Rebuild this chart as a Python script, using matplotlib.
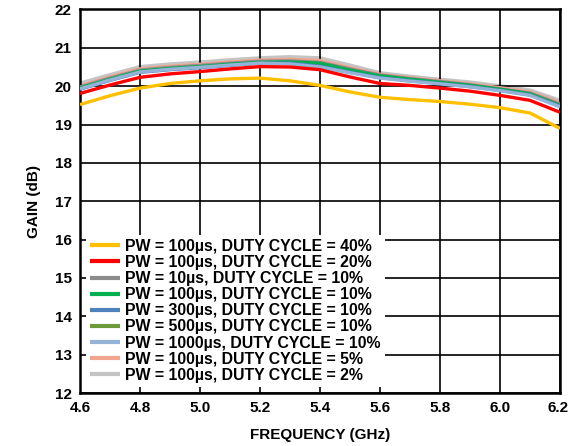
import matplotlib
matplotlib.use('Agg')
import matplotlib.pyplot as plt
import matplotlib.transforms as mtransforms

plt.rcParams['font.family'] = ['Liberation Sans', 'DejaVu Sans']
plt.rcParams['font.weight'] = 'bold'

# 频率点 (GHz)
freq = [4.6, 4.7, 4.8, 4.9, 5.0, 5.1, 5.2, 5.3, 5.4, 5.5, 5.6, 5.7, 5.8, 5.9, 6.0, 6.1, 6.2]

gain_100us_40 = [19.52, 19.75, 19.95, 20.07, 20.14, 20.19, 20.21, 20.14, 20.02, 19.85, 19.71, 19.65, 19.60, 19.53, 19.44, 19.30, 18.90]
gain_100us_20 = [19.81, 20.03, 20.23, 20.32, 20.38, 20.45, 20.51, 20.50, 20.43, 20.24, 20.07, 20.02, 19.95, 19.87, 19.76, 19.63, 19.32]
gain_10us_10 = [19.98, 20.21, 20.42, 20.49, 20.54, 20.60, 20.65, 20.66, 20.62, 20.45, 20.29, 20.20, 20.12, 20.04, 19.93, 19.82, 19.53]
gain_100us_10 = [19.95, 20.18, 20.39, 20.46, 20.51, 20.57, 20.62, 20.63, 20.60, 20.42, 20.27, 20.18, 20.10, 20.02, 19.92, 19.80, 19.50]
gain_300us_10 = [19.92, 20.15, 20.36, 20.43, 20.48, 20.54, 20.60, 20.60, 20.52, 20.36, 20.22, 20.14, 20.07, 19.99, 19.89, 19.77, 19.48]
gain_500us_10 = [19.94, 20.17, 20.38, 20.45, 20.50, 20.56, 20.61, 20.62, 20.58, 20.40, 20.25, 20.16, 20.08, 20.00, 19.90, 19.78, 19.49]
gain_1000us_10 = [19.93, 20.16, 20.37, 20.44, 20.49, 20.55, 20.60, 20.58, 20.50, 20.35, 20.21, 20.13, 20.06, 19.98, 19.88, 19.76, 19.46]
gain_100us_5 = [20.01, 20.24, 20.45, 20.52, 20.57, 20.63, 20.68, 20.70, 20.67, 20.48, 20.31, 20.22, 20.14, 20.06, 19.96, 19.85, 19.57]
gain_100us_2 = [20.05, 20.27, 20.48, 20.55, 20.60, 20.66, 20.71, 20.74, 20.71, 20.52, 20.32, 20.23, 20.15, 20.08, 19.98, 19.87, 19.60]

labels = ['PW = 100µs, DUTY CYCLE = 40%',
          'PW = 100µs, DUTY CYCLE = 20%',
          'PW = 10µs, DUTY CYCLE = 10%',
          'PW = 100µs, DUTY CYCLE = 10%',
          'PW = 300µs, DUTY CYCLE = 10%',
          'PW = 500µs, DUTY CYCLE = 10%',
          'PW = 1000µs, DUTY CYCLE = 10%',
          'PW = 100µs, DUTY CYCLE = 5%',
          'PW = 100µs, DUTY CYCLE = 2%']
series = [gain_100us_40, gain_100us_20, gain_10us_10, gain_100us_10, gain_300us_10,
          gain_500us_10, gain_1000us_10, gain_100us_5, gain_100us_2]
colors = ['#FFC000', '#FF0000', '#8C8C8C', '#00B050', '#4F81BD',
          '#6A9A3A', '#95B3D7', '#F2A58E', '#C4C4C4']
widths = [2.4, 2.4, 2.4, 2.4, 2.4, 2.4, 2.4, 2.4, 4.0]
zorders = [9, 8, 3, 5, 6, 4, 7, 2, 1]

fig = plt.figure(figsize=(5.69, 4.46), dpi=100)
ax = fig.add_axes([0.1406, 0.1188, 0.8436, 0.86])

for y, lab, c, lw, z in zip(series, labels, colors, widths, zorders):
    ax.plot(freq, y, color=c, lw=lw, label=lab, zorder=z, solid_capstyle='butt')

ax.set_xlim(4.6, 6.2)
ax.set_ylim(12, 22)
ax.set_xticks([4.6, 4.8, 5.0, 5.2, 5.4, 5.6, 5.8, 6.0, 6.2])
ax.set_xticklabels(['4.6', '4.8', '5.0', '5.2', '5.4', '5.6', '5.8', '6.0', '6.2'])
ax.set_yticks(range(12, 23))
ax.grid(True, color='black', lw=1.2)
ax.tick_params(length=0, labelsize=11, pad=6)
for s in ax.spines.values():
    s.set_linewidth(1.8)
ax.set_xlabel('FREQUENCY (GHz)', fontsize=11, fontweight='bold', labelpad=9)
ax.set_ylabel('GAIN (dB)', fontsize=11, fontweight='bold', labelpad=10)

# 最后一个刻度标签往左挪一点，避免被图边裁掉
last = ax.get_xticklabels()[-1]
last.set_transform(last.get_transform() + mtransforms.ScaledTranslation(-2 / 100, 0, fig.dpi_scale_trans))

handles, labs = ax.get_legend_handles_labels()
leg = ax.legend(handles, labs, loc='lower left', fontsize=11.4, frameon=True,
                handlelength=1.9, handletextpad=0.3, labelspacing=0.07,
                borderaxespad=0.4, borderpad=0.25, fancybox=False)
leg.get_frame().set_edgecolor('white')
leg.get_frame().set_linewidth(0)
leg.get_frame().set_alpha(1)
leg.set_zorder(20)
for h in leg.get_lines():
    h.set_linewidth(3)

fig.savefig('out.png', dpi=100)
